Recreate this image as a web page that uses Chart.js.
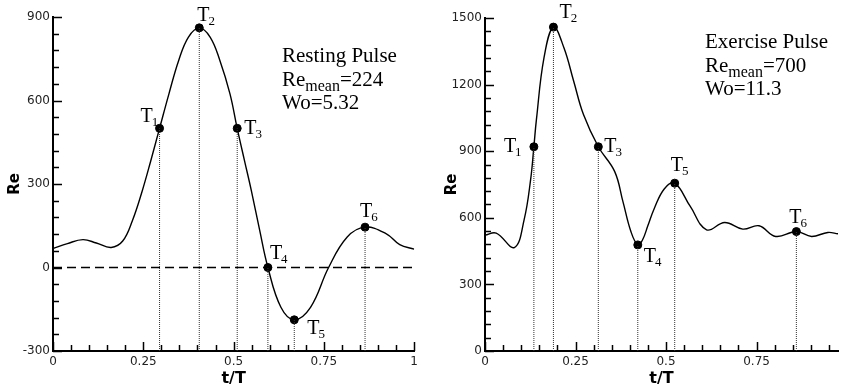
<!DOCTYPE html>
<html lang="en">
<head>
<meta charset="UTF-8" />
<title>Resting and Exercise Pulse</title>
<script src="https://cdn.jsdelivr.net/npm/chart.js@4.4.3/dist/chart.umd.min.js"></script>
<style>
  body { margin: 0; background: #fff; }
  .panel { position: absolute; top: 0; }
</style>
</head>
<body>
<div class="panel" style="left:0"><canvas id="restChart" width="422" height="389"></canvas></div>
<div class="panel" style="left:423px"><canvas id="exChart" width="420" height="389"></canvas></div>

<script>
// resting pulse
const restT  = [0, 0.04, 0.083, 0.12, 0.161, 0.193, 0.22, 0.247, 0.27, 0.295, 0.321, 0.348, 0.375, 0.405, 0.435, 0.462, 0.49, 0.51, 0.53, 0.549, 0.572, 0.595, 0.631, 0.668, 0.713, 0.763, 0.814, 0.864, 0.923, 0.96, 1.0];
const restRe = [68, 86, 100, 88, 72, 95, 169, 275, 380, 500, 624, 744, 828, 861, 828, 744, 624, 500, 385, 277, 135, 0, -143, -188, -143, 0, 109, 145, 121, 82, 66];
const restMarkT  = [0.295, 0.405, 0.51, 0.595, 0.668, 0.864];
const restMarkRe = [500, 861, 500, 0, -188, 145];
const restXTicks = [0, 0.25, 0.5, 0.75, 1];
const restYTicks = [-300, 0, 300, 600, 900];

// exercise pulse
const exT  = [0, 0.031, 0.081, 0.108, 0.126, 0.135, 0.142, 0.163, 0.189, 0.218, 0.245, 0.272, 0.313, 0.358, 0.381, 0.403, 0.422, 0.435, 0.45, 0.467, 0.495, 0.524, 0.567, 0.612, 0.662, 0.712, 0.757, 0.803, 0.86, 0.902, 0.947, 0.975];
const exRe = [522, 531, 466, 591, 772, 920, 1042, 1321, 1459, 1366, 1215, 1065, 920, 809, 673, 538, 478, 500, 565, 640, 730, 756, 651, 546, 579, 549, 564, 516, 538, 516, 534, 528];
const exMarkT  = [0.135, 0.189, 0.313, 0.422, 0.524, 0.86];
const exMarkRe = [920, 1459, 920, 478, 756, 538];
const exXTicks = [0, 0.25, 0.5, 0.75];
const exYTicks = [0, 300, 600, 900, 1200, 1500];

const markNames = ["1", "2", "3", "4", "5", "6"];

const serif = '"Liberation Serif", "Times New Roman", serif';
const sans = '"DejaVu Sans", Arial, sans-serif';

// ticks pointing into the plot, majors every 5th minor
const inwardTicks = {
  id: "inwardTicks",
  afterDraw(chart, args, opts) {
    const { ctx, chartArea: a, scales: { x, y } } = chart;
    ctx.save();
    ctx.strokeStyle = "#000";
    ctx.lineWidth = 1.5;
    for (let i = 0; x.min + i * opts.xMinor <= x.max + 1e-9; i++) {
      const px = Math.round(x.getPixelForValue(x.min + i * opts.xMinor)) + 0.5;
      ctx.beginPath();
      ctx.moveTo(px, a.bottom);
      ctx.lineTo(px, a.bottom - (i % 5 === 0 ? 9 : 6));
      ctx.stroke();
    }
    for (let i = 0; y.min + i * opts.yMinor <= y.max + 1e-9; i++) {
      const py = Math.round(y.getPixelForValue(y.min + i * opts.yMinor)) + 0.5;
      ctx.beginPath();
      ctx.moveTo(a.left, py);
      ctx.lineTo(a.left + (i % 5 === 0 ? 9 : 6), py);
      ctx.stroke();
    }
    ctx.restore();
  }
};

// T1..T6 labels and the info block
const pulseText = {
  id: "pulseText",
  afterDatasetsDraw(chart, args, opts) {
    const { ctx, scales: { x, y } } = chart;
    ctx.save();
    ctx.fillStyle = "#000";
    ctx.textBaseline = "alphabetic";
    ctx.textAlign = "left";
    opts.t.forEach((t, i) => {
      const px = x.getPixelForValue(t) + opts.offsets[i][0];
      const py = y.getPixelForValue(opts.re[i]) + opts.offsets[i][1];
      ctx.font = "20px " + serif;
      ctx.fillText("T", px, py);
      const w = ctx.measureText("T").width;
      ctx.font = "13px " + serif;
      ctx.fillText(markNames[i], px + w - 1, py + 4);
    });
    const [bx, by] = opts.blockAt;
    ctx.font = "21px " + serif;
    ctx.fillText(opts.title, bx, by);
    ctx.fillText("Re", bx, by + 23.5);
    let w = ctx.measureText("Re").width;
    ctx.font = "16px " + serif;
    ctx.fillText("mean", bx + w, by + 28.5);
    w += ctx.measureText("mean").width;
    ctx.font = "21px " + serif;
    ctx.fillText("=" + opts.reMean, bx + w, by + 23.5);
    ctx.fillText("Wo=" + opts.wo, bx, by + 47);
    ctx.restore();
  }
};

function makeChart(id, p) {
  const curve = p.t.map((t, i) => ({ x: t, y: p.re[i] }));
  const marks = p.markT.map((t, i) => ({ x: t, y: p.markRe[i] }));
  const drops = [];
  p.markT.forEach((t, i) => {
    drops.push({ x: t, y: p.yMin }, { x: t, y: p.markRe[i] }, { x: t, y: null });
  });

  const datasets = [
    { data: drops, borderColor: "#333", borderWidth: 1, borderDash: [1, 1], pointRadius: 0, spanGaps: false },
    { data: curve, borderColor: "#000", borderWidth: 1.4, pointRadius: 0, tension: 0.4 },
    { data: marks, showLine: false, pointRadius: 4, pointBackgroundColor: "#000", pointBorderColor: "#000", clip: false }
  ];
  if (p.zeroLine) {
    datasets.splice(2, 0, { data: [{ x: 0, y: 0 }, { x: p.xMax, y: 0 }], borderColor: "#000", borderWidth: 1.3, borderDash: [9, 5], pointRadius: 0 });
  }

  return new Chart(document.getElementById(id).getContext("2d"), {
    type: "line",
    data: { datasets: datasets },
    options: {
      responsive: false,
      animation: false,
      layout: { padding: { top: p.padTop, right: p.padRight, left: 0, bottom: 0 } },
      plugins: {
        legend: { display: false },
        tooltip: { enabled: false },
        inwardTicks: { xMinor: 0.05, yMinor: p.yMinor },
        pulseText: {
          t: p.markT, re: p.markRe, offsets: p.offsets, blockAt: p.blockAt,
          title: p.title, reMean: p.reMean, wo: p.wo
        }
      },
      scales: {
        x: {
          type: "linear",
          min: 0,
          max: p.xMax,
          afterBuildTicks: (s) => { s.ticks = p.xTicks.map((v) => ({ value: v })); },
          afterFit: (s) => { s.height = 38; },
          grid: { drawOnChartArea: false, drawTicks: false },
          border: { display: true, color: "#000", width: 2 },
          ticks: { color: "#222", font: { family: sans, size: 12 }, padding: 4, maxRotation: 0, callback: (v) => String(v) },
          title: { display: true, text: "t/T", color: "#000", font: { family: sans, size: 16, weight: "bold" }, padding: { top: 0, bottom: 1 } }
        },
        y: {
          type: "linear",
          min: p.yMin,
          max: p.yMax,
          afterBuildTicks: (s) => { s.ticks = p.yTicks.map((v) => ({ value: v })); },
          afterFit: (s) => { s.width = p.yWidth; },
          grid: { drawOnChartArea: false, drawTicks: false },
          border: { display: true, color: "#000", width: 2 },
          ticks: { color: "#222", font: { family: sans, size: 12 }, padding: 3, callback: (v) => String(v) },
          title: { display: true, text: "Re", color: "#000", font: { family: sans, size: 15, weight: "bold" }, padding: { top: p.titlePad, bottom: 0 } }
        }
      }
    },
    plugins: [inwardTicks, pulseText]
  });
}

makeChart("restChart", {
  t: restT, re: restRe, markT: restMarkT, markRe: restMarkRe,
  xTicks: restXTicks, yTicks: restYTicks,
  xMax: 1, yMin: -300, yMax: 900, yMinor: 60,
  padTop: 17, padRight: 4, yWidth: 53, titlePad: 6,
  zeroLine: true,
  offsets: [[-19, -6], [-2, -7], [7, 6], [2, -9], [13, 14], [-5, -10]],
  blockAt: [282, 62],
  title: "Resting Pulse", reMean: "224", wo: "5.32"
});

makeChart("exChart", {
  t: exT, re: exRe, markT: exMarkT, markRe: exMarkRe,
  xTicks: exXTicks, yTicks: exYTicks,
  xMax: 0.975, yMin: 0, yMax: 1500, yMinor: 60,
  padTop: 18, padRight: 0, yWidth: 62, titlePad: 20,
  zeroLine: false,
  offsets: [[-30, 5], [6, -9], [6, 5], [6, 17], [-4, -12], [-7, -9]],
  blockAt: [282, 48],
  title: "Exercise Pulse", reMean: "700", wo: "11.3"
});
</script>
</body>
</html>
